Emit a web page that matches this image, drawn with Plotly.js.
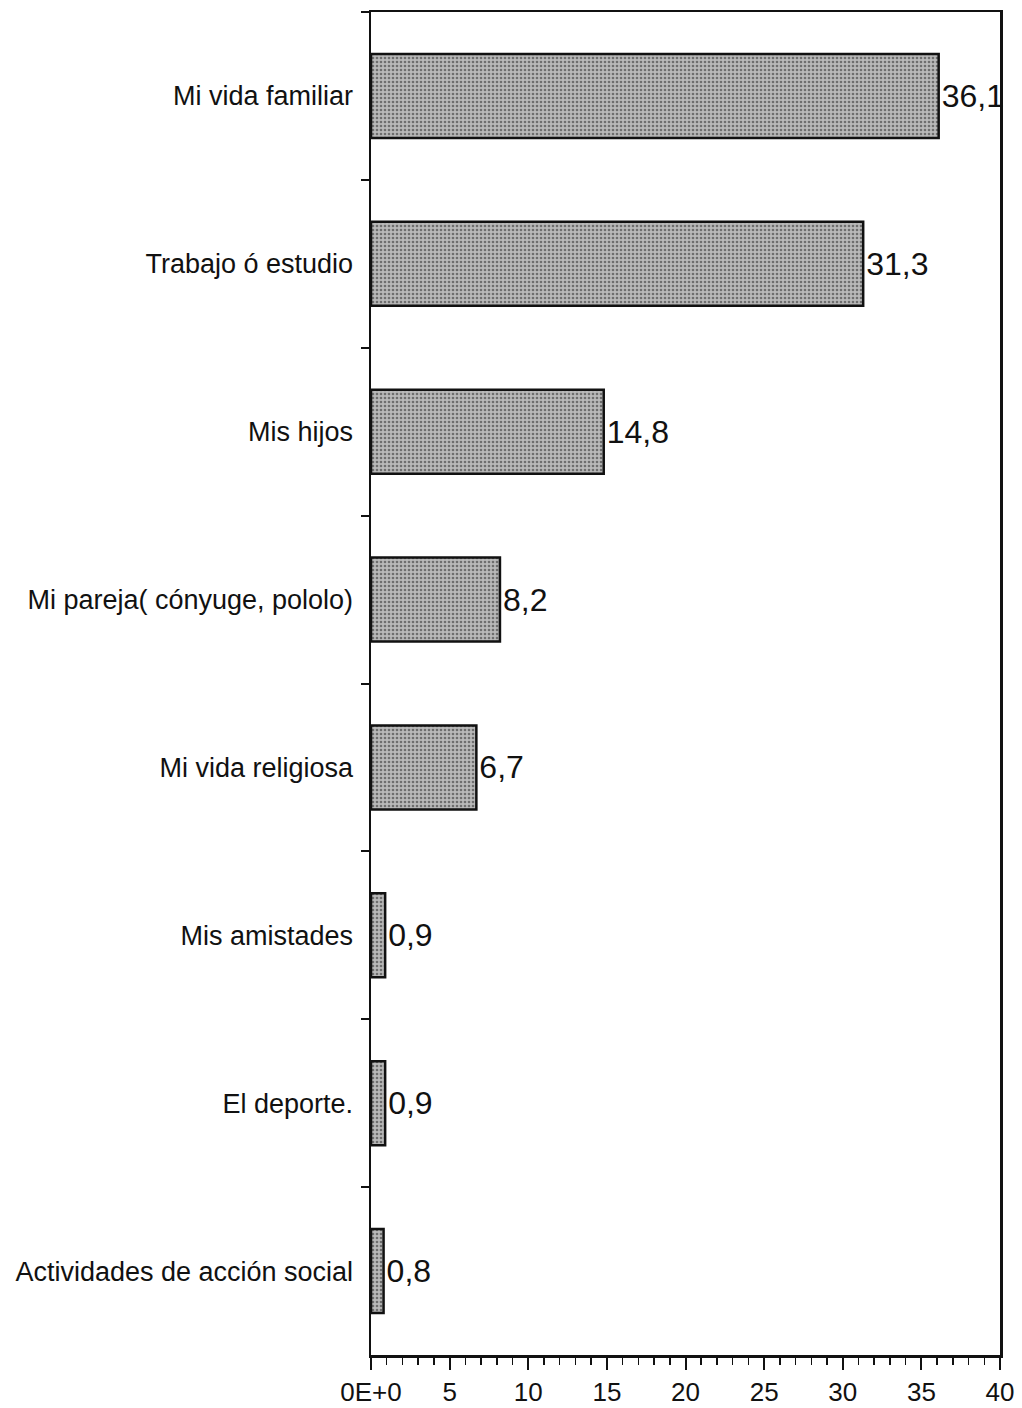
<!DOCTYPE html>
<html>
<head>
<meta charset="utf-8">
<script src="https://cdn.plot.ly/plotly-3.0.1.min.js"></script>
<style>
  html, body { margin: 0; padding: 0; background: #ffffff; }
  #chart { width: 1022px; height: 1408px; }
</style>
</head>
<body>
<div id="chart"></div>
<script>
const categories = [
  "Mi vida familiar",
  "Trabajo ó estudio",
  "Mis hijos",
  "Mi pareja( cónyuge, pololo)",
  "Mi vida religiosa",
  "Mis amistades",
  "El deporte.",
  "Actividades de acción social"
];
const values = [36.1, 31.3, 14.8, 8.2, 6.7, 0.9, 0.9, 0.8];
const xTickVals = [0, 5, 10, 15, 20, 25, 30, 35, 40];
const xTickText = ["0E+0", "5", "10", "15", "20", "25", "30", "35", "40"];

const labels = values.map(v => v.toFixed(1).replace(".", ","));

const trace = {
  type: "bar",
  orientation: "h",
  y: categories,
  x: values,
  text: labels,
  textposition: "outside",
  cliponaxis: false,
  textfont: { family: "Liberation Sans, Arial, sans-serif", size: 32, color: "#111" },
  width: 0.5,
  marker: {
    color: "#a6a6a6",
    line: { color: "#111", width: 2.5 },
    pattern: { shape: ".", size: 4, solidity: 0.35, fgcolor: "#6e6e6e", bgcolor: "#b9b9b9", fillmode: "replace" }
  },
  hoverinfo: "skip"
};

const layout = {
  width: 1022,
  height: 1408,
  margin: { l: 371, r: 22, t: 12, b: 53 },
  paper_bgcolor: "#ffffff",
  plot_bgcolor: "#ffffff",
  showlegend: false,
  bargap: 0.5,
  font: { family: "Liberation Sans, Arial, sans-serif", color: "#111" },
  xaxis: {
    range: [0, 40],
    tickvals: xTickVals,
    ticktext: xTickText,
    ticks: "outside",
    ticklen: 12,
    tickwidth: 2,
    tickcolor: "#111",
    minor: { dtick: 1, ticks: "outside", ticklen: 7, tickwidth: 1.5, tickcolor: "#111", showgrid: false },
    showgrid: false,
    zeroline: false,
    showline: true,
    linecolor: "#111",
    linewidth: 2.5,
    mirror: true,
    tickfont: { family: "Liberation Sans, Arial, sans-serif", size: 26, color: "#111" },
    fixedrange: true
  },
  yaxis: {
    type: "category",
    autorange: "reversed",
    tickson: "boundaries",
    ticks: "outside",
    ticklen: 8,
    tickwidth: 2,
    tickcolor: "#111",
    showgrid: false,
    zeroline: false,
    showline: true,
    linecolor: "#111",
    linewidth: 2.5,
    mirror: true,
    ticklabelstandoff: 10,
    tickfont: { family: "Liberation Sans, Arial, sans-serif", size: 27, color: "#111" },
    fixedrange: true
  }
};

Plotly.newPlot("chart", [trace], layout, { displayModeBar: false, staticPlot: true });
</script>
</body>
</html>
